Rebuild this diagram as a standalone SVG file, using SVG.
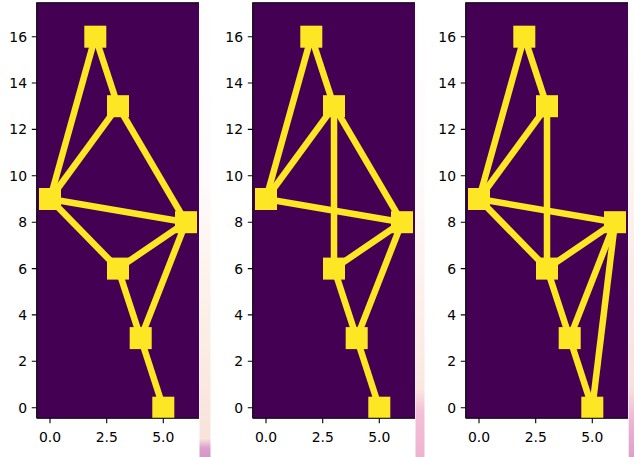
<svg xmlns="http://www.w3.org/2000/svg" width="634" height="457" viewBox="0 0 634 457">
<defs>
<style>
.bg{fill:#440154}
.e{stroke:#fde725;stroke-width:6.5;stroke-linecap:butt;fill:none}
.n{fill:#fde725}
.sp{stroke:#000;stroke-width:1.1;fill:none}
.tk{stroke:#000;stroke-width:1.1}
.yl{font-family:"DejaVu Sans",sans-serif;font-size:13.9px;fill:#000;text-anchor:end}
.xl{font-family:"DejaVu Sans",sans-serif;font-size:13.9px;fill:#000;text-anchor:middle}
</style>
<clipPath id="ax"><rect x="36.7" y="2.7" width="162.3" height="415.6"/></clipPath>
<linearGradient id="g1" x1="0" y1="0" x2="0" y2="457" gradientUnits="userSpaceOnUse">
<stop offset="0" stop-color="#ffffff"/><stop offset="0.4" stop-color="#fefbfa"/><stop offset="0.75" stop-color="#fbece4"/><stop offset="0.96" stop-color="#f8e2dc"/><stop offset="0.98" stop-color="#dc9fcc"/><stop offset="1" stop-color="#d596c8"/>
</linearGradient>
<linearGradient id="g2" x1="0" y1="0" x2="0" y2="457" gradientUnits="userSpaceOnUse">
<stop offset="0" stop-color="#ffffff"/><stop offset="0.4" stop-color="#fefaf9"/><stop offset="0.85" stop-color="#fbe7e1"/><stop offset="0.9" stop-color="#f3c0d6"/><stop offset="1" stop-color="#eeb2d2"/>
</linearGradient>
<linearGradient id="g3" x1="0" y1="0" x2="0" y2="457" gradientUnits="userSpaceOnUse">
<stop offset="0" stop-color="#ffffff"/><stop offset="0.4" stop-color="#fdf3f0"/><stop offset="0.85" stop-color="#f8e0de"/><stop offset="0.93" stop-color="#eab2d2"/><stop offset="1" stop-color="#dea0cb"/>
</linearGradient>
</defs>
<rect width="634" height="457" fill="#fff"/>
<rect x="199.5" y="0" width="11" height="457" fill="url(#g1)"/>
<rect x="415.5" y="0" width="9" height="457" fill="url(#g2)"/>
<rect x="628.7" y="0" width="5.3" height="457" fill="url(#g3)"/>

<!-- Panel 1 -->
<g id="panel1">
<rect class="bg" x="36.7" y="2.7" width="162.3" height="415.6"/>
<g clip-path="url(#ax)">
<g id="p1-connectors">
<line class="e" x1="95.3" y1="36.7" x2="118" y2="106.2"/>
<line class="e" x1="95.3" y1="36.7" x2="50" y2="199"/>
<line class="e" x1="118" y1="106.2" x2="50" y2="199"/>
<line class="e" x1="118" y1="106.2" x2="186" y2="222.2"/>
<line class="e" x1="50" y1="199" x2="186" y2="222.2"/>
<line class="e" x1="50" y1="199" x2="118" y2="268.6"/>
<line class="e" x1="186" y1="222.2" x2="118" y2="268.6"/>
<line class="e" x1="186" y1="222.2" x2="140.7" y2="338.1"/>
<line class="e" x1="118" y1="268.6" x2="140.7" y2="338.1"/>
<line class="e" x1="140.7" y1="338.1" x2="163.3" y2="407.7"/>
</g>
<g id="p1-n-2-16"><rect class="n" x="84.3" y="25.7" width="22" height="22"/></g>
<g id="p1-n-3-13"><rect class="n" x="107" y="95.2" width="22" height="22"/></g>
<g id="p1-n-0-9"><rect class="n" x="39" y="188" width="22" height="22"/></g>
<g id="p1-n-6-8"><rect class="n" x="175" y="211.2" width="22" height="22"/></g>
<g id="p1-n-3-6"><rect class="n" x="107" y="257.6" width="22" height="22"/></g>
<g id="p1-n-4-3"><rect class="n" x="129.7" y="327.1" width="22" height="22"/></g>
<g id="p1-n-5-0"><rect class="n" x="152.3" y="396.7" width="22" height="22"/></g>
</g>
<path class="sp" d="M36.7,418.3 V2.7 H199 M36.7,418.3 H199"/>
<g id="p1-ticks">
<path class="tk" d="M31.8,407.7H36.7M31.8,361.3H36.7M31.8,314.9H36.7M31.8,268.6H36.7M31.8,222.2H36.7M31.8,175.8H36.7M31.8,129.4H36.7M31.8,83H36.7M31.8,36.7H36.7M50,418.3V423.2M106.7,418.3V423.2M163.3,418.3V423.2"/>
<text class="yl" x="27" y="412.7">0</text>
<text class="yl" x="27" y="366.3">2</text>
<text class="yl" x="27" y="319.9">4</text>
<text class="yl" x="27" y="273.6">6</text>
<text class="yl" x="27" y="227.2">8</text>
<text class="yl" x="27" y="180.8">10</text>
<text class="yl" x="27" y="134.4">12</text>
<text class="yl" x="27" y="88">14</text>
<text class="yl" x="27" y="41.7">16</text>
<text class="xl" x="50" y="442">0.0</text>
<text class="xl" x="106.7" y="442">2.5</text>
<text class="xl" x="163.3" y="442">5.0</text>
</g>
</g>

<!-- Panel 2 -->
<g id="panel2" transform="translate(216,0)">
<rect class="bg" x="36.7" y="2.7" width="162.3" height="415.6"/>
<g clip-path="url(#ax)">
<g id="p2-connectors">
<line class="e" x1="95.3" y1="36.7" x2="118" y2="106.2"/>
<line class="e" x1="95.3" y1="36.7" x2="50" y2="199"/>
<line class="e" x1="118" y1="106.2" x2="50" y2="199"/>
<line class="e" x1="118" y1="106.2" x2="118" y2="268.6"/>
<line class="e" x1="118" y1="106.2" x2="186" y2="222.2"/>
<line class="e" x1="50" y1="199" x2="186" y2="222.2"/>
<line class="e" x1="186" y1="222.2" x2="118" y2="268.6"/>
<line class="e" x1="186" y1="222.2" x2="140.7" y2="338.1"/>
<line class="e" x1="118" y1="268.6" x2="140.7" y2="338.1"/>
<line class="e" x1="140.7" y1="338.1" x2="163.3" y2="407.7"/>
</g>
<g id="p2-n-2-16"><rect class="n" x="84.3" y="25.7" width="22" height="22"/></g>
<g id="p2-n-3-13"><rect class="n" x="107" y="95.2" width="22" height="22"/></g>
<g id="p2-n-0-9"><rect class="n" x="39" y="188" width="22" height="22"/></g>
<g id="p2-n-6-8"><rect class="n" x="175" y="211.2" width="22" height="22"/></g>
<g id="p2-n-3-6"><rect class="n" x="107" y="257.6" width="22" height="22"/></g>
<g id="p2-n-4-3"><rect class="n" x="129.7" y="327.1" width="22" height="22"/></g>
<g id="p2-n-5-0"><rect class="n" x="152.3" y="396.7" width="22" height="22"/></g>
</g>
<path class="sp" d="M36.7,418.3 V2.7 H199 M36.7,418.3 H199"/>
<g id="p2-ticks">
<path class="tk" d="M31.8,407.7H36.7M31.8,361.3H36.7M31.8,314.9H36.7M31.8,268.6H36.7M31.8,222.2H36.7M31.8,175.8H36.7M31.8,129.4H36.7M31.8,83H36.7M31.8,36.7H36.7M50,418.3V423.2M106.7,418.3V423.2M163.3,418.3V423.2"/>
<text class="yl" x="27" y="412.7">0</text>
<text class="yl" x="27" y="366.3">2</text>
<text class="yl" x="27" y="319.9">4</text>
<text class="yl" x="27" y="273.6">6</text>
<text class="yl" x="27" y="227.2">8</text>
<text class="yl" x="27" y="180.8">10</text>
<text class="yl" x="27" y="134.4">12</text>
<text class="yl" x="27" y="88">14</text>
<text class="yl" x="27" y="41.7">16</text>
<text class="xl" x="50" y="442">0.0</text>
<text class="xl" x="106.7" y="442">2.5</text>
<text class="xl" x="163.3" y="442">5.0</text>
</g>
</g>

<!-- Panel 3 -->
<g id="panel3" transform="translate(429,0)">
<rect class="bg" x="36.7" y="2.7" width="162.3" height="415.6"/>
<g clip-path="url(#ax)">
<g id="p3-connectors">
<line class="e" x1="95.3" y1="36.7" x2="118" y2="106.2"/>
<line class="e" x1="95.3" y1="36.7" x2="50" y2="199"/>
<line class="e" x1="118" y1="106.2" x2="50" y2="199"/>
<line class="e" x1="118" y1="106.2" x2="118" y2="268.6"/>
<line class="e" x1="50" y1="199" x2="186" y2="222.2"/>
<line class="e" x1="50" y1="199" x2="118" y2="268.6"/>
<line class="e" x1="186" y1="222.2" x2="118" y2="268.6"/>
<line class="e" x1="186" y1="222.2" x2="140.7" y2="338.1"/>
<line class="e" x1="186" y1="222.2" x2="163.3" y2="407.7"/>
<line class="e" x1="118" y1="268.6" x2="140.7" y2="338.1"/>
<line class="e" x1="140.7" y1="338.1" x2="163.3" y2="407.7"/>
</g>
<g id="p3-n-2-16"><rect class="n" x="84.3" y="25.7" width="22" height="22"/></g>
<g id="p3-n-3-13"><rect class="n" x="107" y="95.2" width="22" height="22"/></g>
<g id="p3-n-0-9"><rect class="n" x="39" y="188" width="22" height="22"/></g>
<g id="p3-n-6-8"><rect class="n" x="175" y="211.2" width="22" height="22"/></g>
<g id="p3-n-3-6"><rect class="n" x="107" y="257.6" width="22" height="22"/></g>
<g id="p3-n-4-3"><rect class="n" x="129.7" y="327.1" width="22" height="22"/></g>
<g id="p3-n-5-0"><rect class="n" x="152.3" y="396.7" width="22" height="22"/></g>
</g>
<path class="sp" d="M36.7,418.3 V2.7 H199 M36.7,418.3 H199"/>
<g id="p3-ticks">
<path class="tk" d="M31.8,407.7H36.7M31.8,361.3H36.7M31.8,314.9H36.7M31.8,268.6H36.7M31.8,222.2H36.7M31.8,175.8H36.7M31.8,129.4H36.7M31.8,83H36.7M31.8,36.7H36.7M50,418.3V423.2M106.7,418.3V423.2M163.3,418.3V423.2"/>
<text class="yl" x="27" y="412.7">0</text>
<text class="yl" x="27" y="366.3">2</text>
<text class="yl" x="27" y="319.9">4</text>
<text class="yl" x="27" y="273.6">6</text>
<text class="yl" x="27" y="227.2">8</text>
<text class="yl" x="27" y="180.8">10</text>
<text class="yl" x="27" y="134.4">12</text>
<text class="yl" x="27" y="88">14</text>
<text class="yl" x="27" y="41.7">16</text>
<text class="xl" x="50" y="442">0.0</text>
<text class="xl" x="106.7" y="442">2.5</text>
<text class="xl" x="163.3" y="442">5.0</text>
</g>
</g>
</svg>
